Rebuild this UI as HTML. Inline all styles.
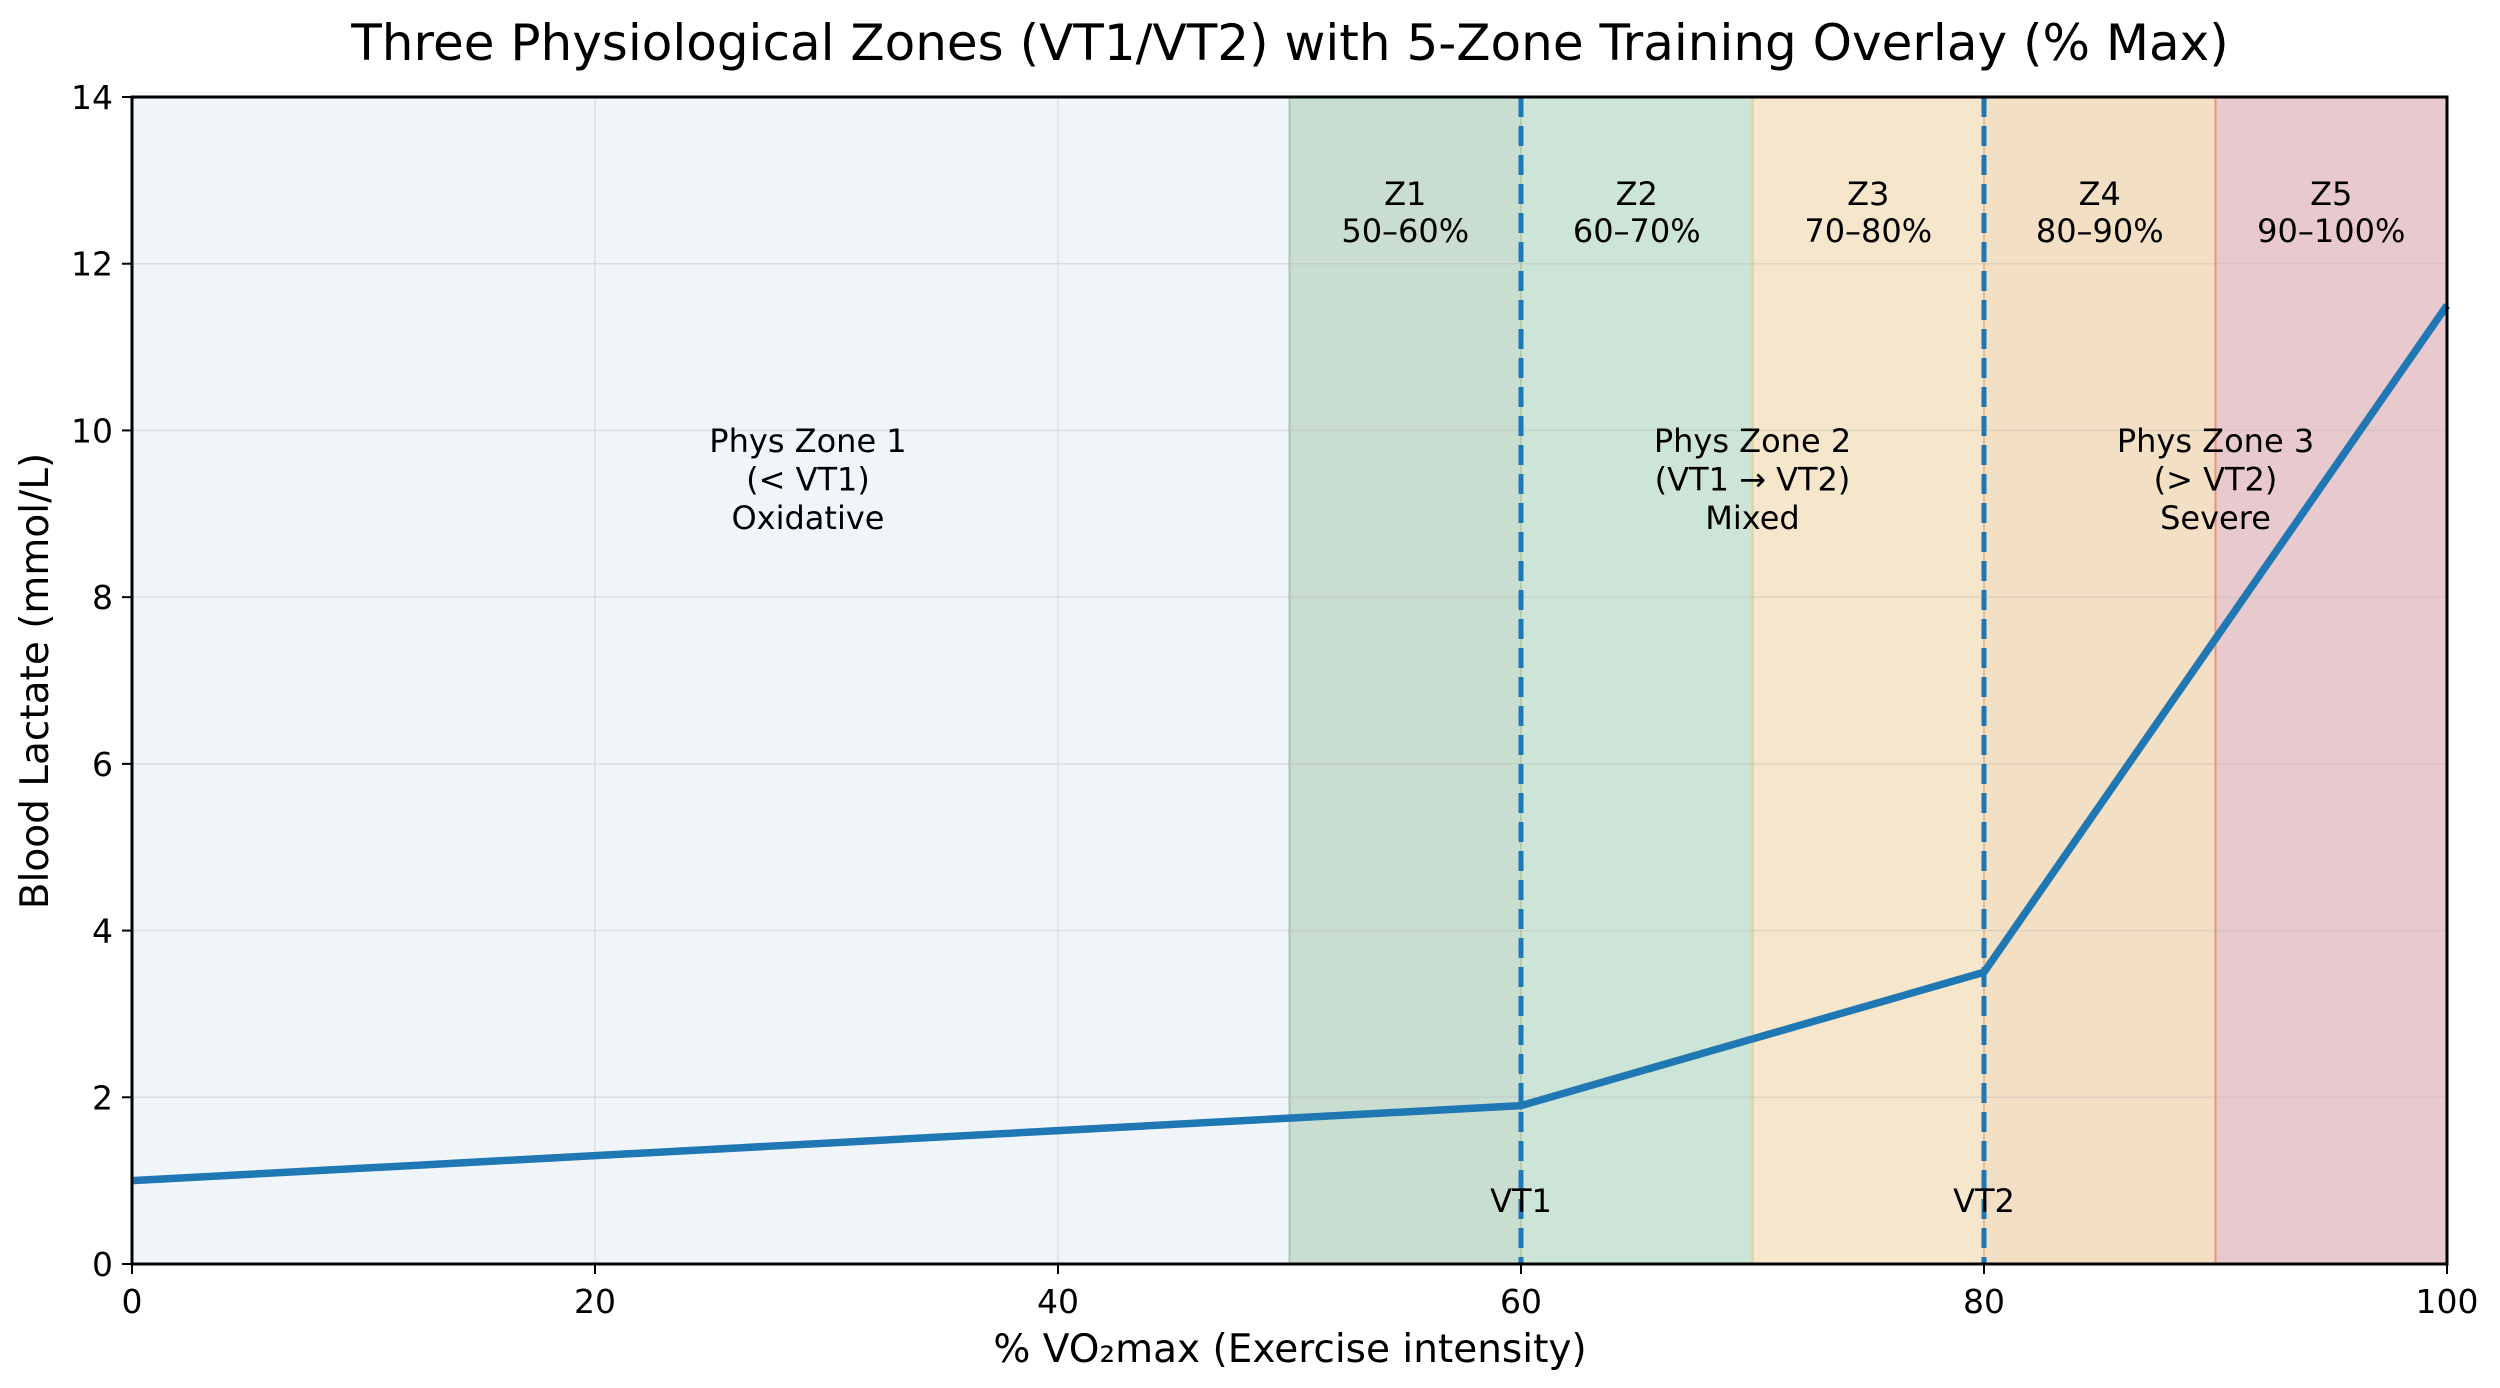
<!DOCTYPE html>
<html><head><meta charset="utf-8"><style>
html,body{margin:0;padding:0;background:#fff;}
svg{display:block;font-family:"DejaVu Sans","Liberation Sans",sans-serif;}
</style></head><body>
<svg id="chart" width="2500" height="1388" viewBox="0 0 2500 1388" xmlns="http://www.w3.org/2000/svg">
<text x="1290" y="60" font-size="50" text-anchor="middle" fill="#000">Three Physiological Zones (VT1/VT2) with 5-Zone Training Overlay (% Max)</text>
<g id="plot"></g>
<text x="1290" y="1362" font-size="39" text-anchor="middle">% VO₂max (Exercise intensity)</text>
<text transform="translate(48,681) rotate(-90)" font-size="39" text-anchor="middle">Blood Lactate (mmol/L)</text>
</svg>
<script>
const xPct = [0, 20, 40, 50, 60, 70, 80, 90, 100];
const lactate = [1.0, 1.3, 1.6, 1.75, 1.9, 2.7, 3.5, 7.5, 11.5];
const xTicks = [0, 20, 40, 60, 80, 100];
const yTicks = [0, 2, 4, 6, 8, 10, 12, 14];
const zoneNames = ["Z1", "Z2", "Z3", "Z4", "Z5"];
const zoneRanges = ["50–60%", "60–70%", "70–80%", "80–90%", "90–100%"];
const zoneStart = [50, 60, 70, 80, 90];
const zoneEnd = [60, 70, 80, 90, 100];
const thresholds = [60, 80];
const thresholdNames = ["VT1", "VT2"];
const physLabels = [["Phys Zone 1", "(< VT1)", "Oxidative"], ["Phys Zone 2", "(VT1 → VT2)", "Mixed"], ["Phys Zone 3", "(> VT2)", "Severe"]];
const physX = [29.2, 70, 90];
const xMin = 0, xMax = 100, yMin = 0, yMax = 14;

const L = 132, R = 2447, T = 97, B = 1264;
const sx = v => L + (v - xMin) / (xMax - xMin) * (R - L);
const sy = v => B - (v - yMin) / (yMax - yMin) * (B - T);
const NS = "http://www.w3.org/2000/svg";
const plot = document.getElementById("plot");
function mk(tag, attrs, parent) {
  const e = document.createElementNS(NS, tag);
  for (const k in attrs) e.setAttribute(k, attrs[k]);
  (parent || plot).appendChild(e);
  return e;
}
const zoneFill = ["#c9ddd1", "#cde5d6", "#f5e6cc", "#f2dfc4", "#e8cace"];
const zoneEdge = ["#a8c8b4", "#b9d6a8", "#d7d29c", "#f0c38c", "#e8957c"];

let bg = mk("rect", {x: sx(0), y: T, width: sx(50) - sx(0), height: B - T, fill: "#f0f5fa"});



for (let i = 0; i < zoneStart.length; i++) {
  const r = mk("rect", {x: sx(zoneStart[i]), y: T, width: sx(zoneEnd[i]) - sx(zoneStart[i]), height: B - T, fill: zoneFill[i]});
  
  
  const e = mk("line", {x1: sx(zoneStart[i]), x2: sx(zoneStart[i]), y1: T, y2: B, stroke: zoneEdge[i], "stroke-width": 2});
  
  
}
xTicks.forEach(v => {
  const g = mk("line", {x1: sx(v), x2: sx(v), y1: T, y2: B, stroke: "#b0b0b0", "stroke-opacity": 0.3, "stroke-width": 1.5});
  
  
});
yTicks.forEach(v => {
  const g = mk("line", {x1: L, x2: R, y1: sy(v), y2: sy(v), stroke: "#b0b0b0", "stroke-opacity": 0.3, "stroke-width": 1.5});
  
  
});
for (let i = 0; i < zoneNames.length; i++) {
  const cx = sx((zoneStart[i] + zoneEnd[i]) / 2);
  const t = mk("text", {x: cx, y: 205, "font-size": 32, "text-anchor": "middle"});
  t.textContent = zoneNames[i];
  
  
  const t2 = mk("text", {x: cx, y: 242, "font-size": 32, "text-anchor": "middle"});
  t2.textContent = zoneRanges[i];
  
  
}
for (let i = 0; i < physLabels.length; i++) {
  physLabels[i].forEach((s, j) => {
    const t = mk("text", {x: sx(physX[i]), y: 452 + j * 38.5, "font-size": 32, "text-anchor": "middle"});
    t.textContent = s;
    
    
  });
}
for (let i = 0; i < thresholds.length; i++) {
  const l = mk("line", {x1: sx(thresholds[i]), x2: sx(thresholds[i]), y1: T, y2: B, stroke: "#1f77b4", "stroke-width": 5, "stroke-dasharray": "20 9"});
  
  
  const t = mk("text", {x: sx(thresholds[i]), y: 1212, "font-size": 32, "text-anchor": "middle"});
  t.textContent = thresholdNames[i];
  
  
}
const pts = xPct.map((x, i) => sx(x) + "," + sy(lactate[i])).join(" ");
const pl = mk("polyline", {points: pts, fill: "none", stroke: "#1f77b4", "stroke-width": 7.5, "stroke-linejoin": "round"});


const sp = mk("rect", {x: L, y: T, width: R - L, height: B - T, fill: "none", stroke: "#000", "stroke-width": 3});


xTicks.forEach(v => {
  const tk = mk("line", {x1: sx(v), x2: sx(v), y1: B, y2: B + 10, stroke: "#000", "stroke-width": 2});
  
  
  const t = mk("text", {x: sx(v), y: 1313, "font-size": 33, "text-anchor": "middle"});
  t.textContent = v;
  
  
});
yTicks.forEach(v => {
  const tk = mk("line", {x1: L - 10, x2: L, y1: sy(v), y2: sy(v), stroke: "#000", "stroke-width": 2});
  
  
  const t = mk("text", {x: L - 19, y: sy(v) + 12, "font-size": 33, "text-anchor": "end"});
  t.textContent = v;
  
  
});
</script>
</body></html>
